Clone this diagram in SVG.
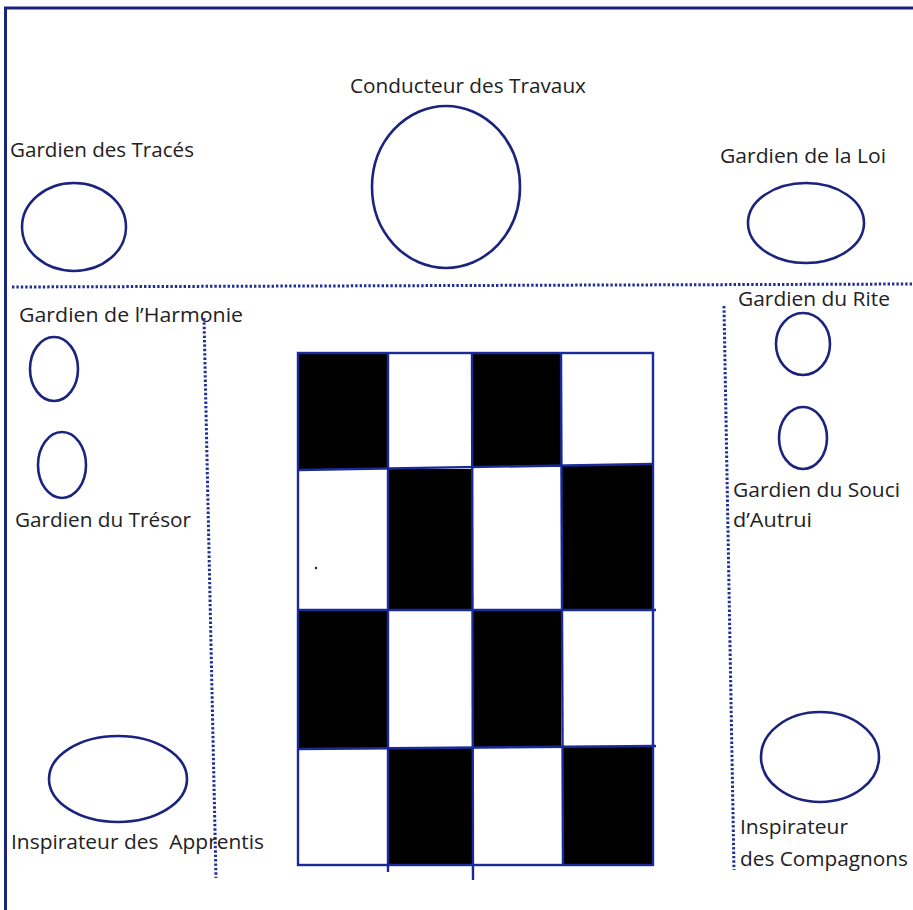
<svg xmlns="http://www.w3.org/2000/svg" width="913" height="910" viewBox="0 0 913 910">
<style>
.seat{fill:none;stroke:#1b237e;stroke-width:2.6}
.lbl{font-family:"Open Sans","Liberation Sans",sans-serif;font-size:20px;fill:#222}
.dot{fill:none;stroke:#1f2f96;stroke-width:3;stroke-dasharray:2.4 2}
.grid{stroke:#1a2a9a;stroke-width:2.4;fill:none}
</style>
<rect width="913" height="910" fill="#fff"/>
<g id="frame">
<line x1="4" y1="8" x2="913" y2="8" stroke="#1a237e" stroke-width="3"/>
<line x1="5.5" y1="7" x2="5.5" y2="910" stroke="#1a237e" stroke-width="3"/>
</g>
<g id="dividers">
<line class="dot" x1="12" y1="287" x2="913" y2="284"/>
<line class="dot" x1="204" y1="318" x2="216" y2="878"/>
<line class="dot" x1="724" y1="306" x2="734" y2="870"/>
</g>
<g id="pavement">
<rect x="298" y="353" width="355" height="512" fill="#fff"/>
<rect x="298" y="353" width="90" height="116" fill="#000"/>
<rect x="472" y="353" width="89" height="114" fill="#000"/>
<rect x="388" y="469" width="84" height="141" fill="#000"/>
<rect x="561" y="465" width="92" height="145" fill="#000"/>
<rect x="298" y="610" width="90" height="138" fill="#000"/>
<rect x="472" y="610" width="89" height="137" fill="#000"/>
<rect x="388" y="748" width="84" height="117" fill="#000"/>
<rect x="563" y="747" width="90" height="118" fill="#000"/>
<rect class="grid" x="298" y="353" width="355" height="512"/>
<line class="grid" x1="388" y1="353" x2="388" y2="872"/>
<line class="grid" x1="472" y1="353" x2="473" y2="880"/>
<line class="grid" x1="561" y1="353" x2="563" y2="865"/>
<line class="grid" x1="298" y1="470" x2="653" y2="464"/>
<line class="grid" x1="298" y1="610" x2="656" y2="610"/>
<line class="grid" x1="298" y1="749" x2="656" y2="746"/>
<circle cx="316" cy="568" r="1.2" fill="#222"/>
</g>
<g id="conducteur">
<ellipse class="seat" cx="446" cy="187" rx="74" ry="81"/>
<text class="lbl" x="350" y="93" textLength="236" lengthAdjust="spacingAndGlyphs">Conducteur des Travaux</text>
</g>
<g id="traces">
<ellipse class="seat" cx="74" cy="227" rx="52" ry="44"/>
<text class="lbl" x="10" y="157" textLength="184" lengthAdjust="spacingAndGlyphs">Gardien des Tracés</text>
</g>
<g id="loi">
<ellipse class="seat" cx="806" cy="223" rx="58" ry="40"/>
<text class="lbl" x="720" y="163" textLength="166" lengthAdjust="spacingAndGlyphs">Gardien de la Loi</text>
</g>
<g id="harmonie">
<ellipse class="seat" cx="54" cy="369" rx="24" ry="32"/>
<text class="lbl" x="19" y="322" textLength="224" lengthAdjust="spacingAndGlyphs">Gardien de l’Harmonie</text>
</g>
<g id="tresor">
<ellipse class="seat" cx="62" cy="465" rx="24" ry="33"/>
<text class="lbl" x="15" y="527" textLength="176" lengthAdjust="spacingAndGlyphs">Gardien du Trésor</text>
</g>
<g id="rite">
<ellipse class="seat" cx="803" cy="344" rx="27" ry="31"/>
<text class="lbl" x="738" y="306" textLength="152" lengthAdjust="spacingAndGlyphs">Gardien du Rite</text>
</g>
<g id="souci">
<ellipse class="seat" cx="803" cy="438" rx="24" ry="31"/>
<text class="lbl" x="733" y="497" textLength="167" lengthAdjust="spacingAndGlyphs">Gardien du Souci</text>
<text class="lbl" x="733" y="527" textLength="79" lengthAdjust="spacingAndGlyphs">d’Autrui</text>
</g>
<g id="apprentis">
<ellipse class="seat" cx="118" cy="779" rx="69" ry="43"/>
<text class="lbl" x="11" y="849" textLength="253" lengthAdjust="spacingAndGlyphs" xml:space="preserve">Inspirateur des  Apprentis</text>
</g>
<g id="compagnons">
<ellipse class="seat" cx="820" cy="757" rx="59" ry="45"/>
<text class="lbl" x="740" y="834" textLength="108" lengthAdjust="spacingAndGlyphs">Inspirateur</text>
<text class="lbl" x="740" y="866" textLength="168" lengthAdjust="spacingAndGlyphs">des Compagnons</text>
</g>
</svg>
